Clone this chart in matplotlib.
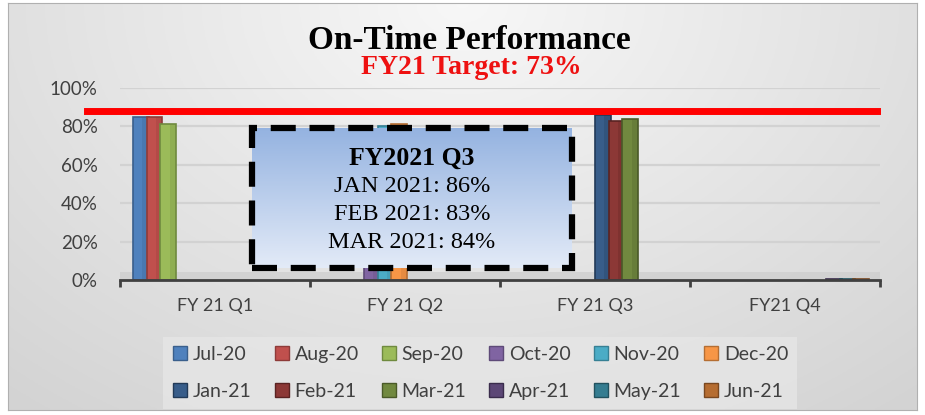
import numpy as np
import matplotlib.pyplot as plt
from matplotlib.patches import Rectangle
from matplotlib.lines import Line2D

# ------------------------------------------------------------
# DATA
# ------------------------------------------------------------
quarters = ["FY 21 Q1", "FY 21 Q2", "FY 21 Q3", "FY21 Q4"]
months = ["Jul-20", "Aug-20", "Sep-20", "Oct-20", "Nov-20", "Dec-20",
          "Jan-21", "Feb-21", "Mar-21", "Apr-21", "May-21", "Jun-21"]
month_quarter = [0, 0, 0, 1, 1, 1, 2, 2, 2, 3, 3, 3]
on_time = [0.85, 0.85, 0.81, 0.78, 0.80, 0.81, 0.86, 0.83, 0.84, 0.0, 0.0, 0.0]
colors = ["#4F81BD", "#C0504D", "#9BBB59", "#8064A2", "#4BACC6", "#F79646",
          "#385D8A", "#8C3836", "#71893F", "#5C4776", "#357D91", "#B66D31"]
edge_colors = ["#3A5F8C", "#8E3B39", "#6F8A3F", "#5E4A78", "#378094", "#B56E33",
               "#223A58", "#5A2322", "#4A5A28", "#3A2C4C", "#22525F", "#7A4820"]
y_ticks = [0, 0.2, 0.4, 0.6, 0.8, 1.0]
y_tick_labels = ["0%", "20%", "40%", "60%", "80%", "100%"]
target_line = 0.88

title = "On-Time Performance"
subtitle = "FY21 Target: 73%"
box_title = "FY2021 Q3"
box_lines = ["JAN 2021: 86%", "FEB 2021: 83%", "MAR 2021: 84%"]

W, H = 925, 415
fig = plt.figure(figsize=(W / 100, H / 100), dpi=100)
fig.patch.set_facecolor("white")

# ------------------------------------------------------------
# BACKGROUND PANEL (gray gradient)
# ------------------------------------------------------------
bg = fig.add_axes([8 / W, 1 - 410 / H, 909 / W, 407 / H], zorder=0)
gx, gy = np.meshgrid(np.linspace(-1, 1, 300), np.linspace(0, 1, 150))
dist = np.sqrt((gx / 1.1) ** 2 + (gy / 0.9) ** 2)
shade = 0.97 - 0.14 * np.clip(dist, 0, 1.4) / 1.4
bg.imshow(np.dstack([shade, shade, shade]), aspect="auto", extent=[0, 1, 0, 1],
          origin="upper")
bg.set_xticks([])
bg.set_yticks([])
for s in bg.spines.values():
    s.set_color("#b0b0b0")

# ------------------------------------------------------------
# MAIN AXES
# ------------------------------------------------------------
ax = fig.add_axes([120 / W, 1 - 280 / H, 760 / W, 192 / H], zorder=1)
ax.patch.set_alpha(0)
ax.set_xlim(0, len(quarters))
ax.set_ylim(0, 1.0)

for yt in y_ticks[1:]:
    ax.axhline(yt, color="#d2d2d2", lw=1.6, zorder=1)
# floor band
ax.axhspan(0, 0.04, color="#cdcdcd", alpha=0.7, lw=0, zorder=1)

slot = 0.072
start = 0.068
bar_w = 0.082
for i, m in enumerate(months):
    q = month_quarter[i]
    xpos = q + start + i * slot + bar_w / 2
    val = on_time[i]
    ax.bar(xpos, max(val, 0.004), width=bar_w, color=colors[i],
           edgecolor=edge_colors[i], linewidth=1.2, zorder=3)
    if val > 0:
        # darker side face for a little depth
        ax.bar(xpos + bar_w * 0.3, val, width=bar_w * 0.4, color=edge_colors[i],
               alpha=0.25, lw=0, zorder=3)

ax.set_yticks(y_ticks)
ax.set_yticklabels(y_tick_labels)
ax.set_xticks(np.arange(len(quarters) + 1))
ax.set_xticklabels([])
ax.set_xticks(np.arange(len(quarters)) + 0.5, minor=True)
ax.set_xticklabels(quarters, minor=True)
ax.tick_params(axis="x", which="major", length=5, width=2, color="#404040", direction="out")
ax.tick_params(axis="x", which="minor", length=0, pad=13, labelsize=13, labelcolor="#404040")
ax.tick_params(axis="y", length=0, pad=16, labelsize=13.5, labelcolor="#404040")
for lab in ax.get_xticklabels(minor=True) + ax.get_yticklabels():
    lab.set_family("Lato")
for name in ["left", "right", "top"]:
    ax.spines[name].set_visible(False)
ax.spines["bottom"].set_color("#404040")
ax.spines["bottom"].set_linewidth(2)
ax.spines["bottom"].set_zorder(4)

# target line
ax.axhline(target_line, xmin=-0.043, xmax=0.996, color="#FF0000", lw=5,
           clip_on=False, zorder=5)

# ------------------------------------------------------------
# CALLOUT BOX
# ------------------------------------------------------------
box_ax = fig.add_axes([252 / W, 1 - 268 / H, 320 / W, 140 / H], zorder=2)
grad = np.linspace(0, 1, 100)[:, None]
top_c = np.array([0.58, 0.70, 0.88])
bot_c = np.array([0.89, 0.92, 0.97])
box_img = top_c * (1 - grad[..., None]) + bot_c * grad[..., None]
box_img = np.repeat(box_img, 2, axis=1)
box_ax.imshow(box_img, aspect="auto", extent=[0, 1, 0, 1], origin="upper")
box_ax.set_xlim(0, 1)
box_ax.set_ylim(0, 1)
box_ax.set_xticks([])
box_ax.set_yticks([])
for s in box_ax.spines.values():
    s.set_visible(False)
box_ax.add_patch(Rectangle((0, 0), 1, 1, fill=False, ec="black", lw=4.5,
                           ls=(0, (4, 2.2)), transform=box_ax.transAxes, clip_on=False))
box_ax.text(0.5, 0.785, box_title, ha="center", va="center", fontsize=18.5,
            fontweight="bold", family="Liberation Serif")
for k, line in enumerate(box_lines):
    box_ax.text(0.5, 0.58 - k * 0.2, line, ha="center", va="center", fontsize=17.5,
                family="Liberation Serif")

# ------------------------------------------------------------
# TITLES
# ------------------------------------------------------------
fig.text(469 / W, 1 - 49 / H, title, ha="center", va="baseline", fontsize=24,
         fontweight="bold", family="Liberation Serif", color="black")
fig.text(471 / W, 1 - 74 / H, subtitle, ha="center", va="baseline", fontsize=20,
         fontweight="bold", family="Liberation Serif", color="#EE1111")

# ------------------------------------------------------------
# LEGEND
# ------------------------------------------------------------
handles = [Line2D([], [], marker="s", ls="", markersize=10, markerfacecolor=colors[i],
                  markeredgecolor=edge_colors[i], label=m) for i, m in enumerate(months)]
order = [j for pair in zip(range(6), range(6, 12)) for j in pair]
leg = fig.legend([handles[j] for j in order], [months[j] for j in order],
                 ncol=6, loc="center", bbox_to_anchor=(480 / W, 1 - 373 / H),
                 frameon=True, fancybox=False, handletextpad=0.2, columnspacing=1.1,
                 labelspacing=1.05, prop={"family": "Lato", "size": 14},
                 borderpad=0.45, handlelength=0.9)
leg.get_frame().set_facecolor("#e6e6e6")
leg.get_frame().set_edgecolor("none")
for t in leg.get_texts():
    t.set_color("#404040")

fig.savefig("out.png", dpi=100)
